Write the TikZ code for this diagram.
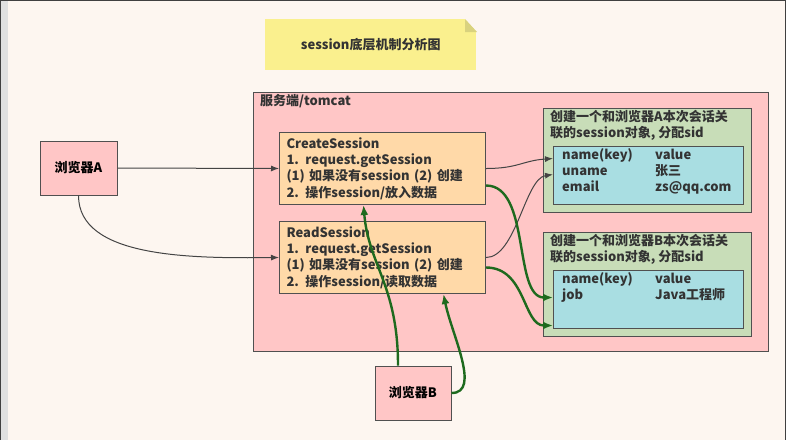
\documentclass[tikz,border=0pt]{standalone}
\usepackage{fontspec}
\setmainfont{Noto Sans CJK SC}
\usetikzlibrary{arrows.meta}
\definecolor{bgc}{HTML}{FDF6F0}
\definecolor{notec}{HTML}{FAF08E}
\definecolor{foldc}{HTML}{D9D27E}
\definecolor{pinkc}{HTML}{FFC6C6}
\definecolor{peachc}{HTML}{FFD9A8}
\definecolor{greenc}{HTML}{C8DDB8}
\definecolor{cyanc}{HTML}{A9DEE2}
\definecolor{edgec}{HTML}{505050}
\definecolor{txtc}{HTML}{333333}
\definecolor{darrow}{HTML}{444444}
\definecolor{garrow}{HTML}{1E6A1E}
\tikzset{
  box/.style={draw=edgec, line width=1pt, rectangle, inner sep=0pt, anchor=north west},
  txt/.style={inner sep=0pt, anchor=north west, align=left, text=txtc},
  handler/.style={box, fill=peachc, minimum width=206pt, minimum height=72pt, text width=192pt, align=left, inner xsep=7pt, text=txtc},
  thinarrow/.style={draw=darrow, line width=1pt, -{Latex[length=8pt,width=6pt]}},
  greenarrow/.style={draw=garrow, line width=2.4pt, -{Latex[length=10pt,width=8pt]}},
}
\begin{document}
\begin{tikzpicture}[x=1pt,y=-1pt, font=\fontsize{13}{16.2}\selectfont\bfseries]
\useasboundingbox (0,0) rectangle (786,440);
\fill[bgc] (0,0) rectangle (786,440);
\fill[black!12] (1,0) rectangle (8,440);
\draw[black!75, line width=2pt] (0,0) -- (786,0);
\draw[black!75, line width=2pt] (0,0) -- (0,440);
\draw[black!75, line width=2pt] (786,0) -- (786,440);

% title note
\node[fill=notec, inner sep=0pt, anchor=north west, minimum width=211pt, minimum height=51pt, text=txtc] (title) at (265,19) {session底层机制分析图};
\fill[bgc] (465,19) -- (477,19) -- (477,32) -- cycle;
\fill[foldc] (465,19) -- (477,32) -- (465,32) -- cycle;

% server
\node[box, fill=pinkc, minimum width=515pt, minimum height=259pt] (server) at (253,92) {};
\node[txt] (serverlbl) at (260,94) {服务端/tomcat};

% browsers
\node[box, fill=pinkc, minimum width=77pt, minimum height=54pt, anchor=center] (bA) at (78.5,168) {浏览器A};
\node[box, fill=pinkc, minimum width=76pt, minimum height=54pt, anchor=center] (bB) at (413,393) {浏览器B};

% handlers
\node[handler] (cs) at (279,132)
  {CreateSession\\1. request.getSession\\(1) 如果没有session (2) 创建\\2. 操作session/放入数据};
\node[handler] (rs) at (279,221)
  {ReadSession\\1. request.getSession\\(1) 如果没有session (2) 创建\\2. 操作session/读取数据};

% session A
\node[box, fill=greenc, minimum width=208pt, minimum height=104pt] (sA) at (543,108) {};
\node[txt] (sAlbl) at (550,110) {创建一个和浏览器A本次会话关\\联的session对象, 分配sid};
\node[box, fill=cyanc, minimum width=190pt, minimum height=58pt] (cyA) at (553,146) {};
\node[txt] (tabA) at (562,148) {\begin{tabular}{@{}p{93pt}@{}l@{}}name(key) & value\\ uname & 张三\\ email & zs@qq.com\end{tabular}};

% session B
\node[box, fill=greenc, minimum width=208pt, minimum height=104pt] (sB) at (543,232) {};
\node[txt] (sBlbl) at (550,234) {创建一个和浏览器B本次会话关\\联的session对象, 分配sid};
\node[box, fill=cyanc, minimum width=190pt, minimum height=58pt] (cyB) at (553,270) {};
\node[txt] (tabB) at (562,272) {\begin{tabular}{@{}p{93pt}@{}l@{}}name(key) & value\\ job & Java工程师\end{tabular}};

% connectors from browser A
\draw[thinarrow] (bA.east) -- (cs.west);
\draw[thinarrow] (bA.south) .. controls +(0,62) and +(-90,1) .. (rs.west);

% thin connectors to session A
\draw[thinarrow] (cs.east) .. controls +(32,0) and +(-30,2) .. ([yshift=17pt]cyA.west);
\draw[thinarrow] (rs.east) .. controls +(30,0) and +(-28,4) .. ([yshift=1pt]cyA.west);

% green connectors to session B
\draw[greenarrow] ([yshift=-17pt]cs.east) .. controls +(45,0) and +(-40,0) .. ([yshift=2pt]cyB.west);
\draw[greenarrow] ([yshift=-10pt]rs.east) .. controls +(40,0) and +(-30,0) .. ([yshift=-26pt]cyB.west);

% green connectors from browser B
\draw[greenarrow] ([xshift=-15pt]bB.north) .. controls +(0,-80) and +(5,60) .. ([xshift=-19pt]cs.south);
\draw[greenarrow] (bB.east) .. controls +(30,0) and +(8,40) .. ([xshift=61pt]rs.south);
\end{tikzpicture}
\end{document}
